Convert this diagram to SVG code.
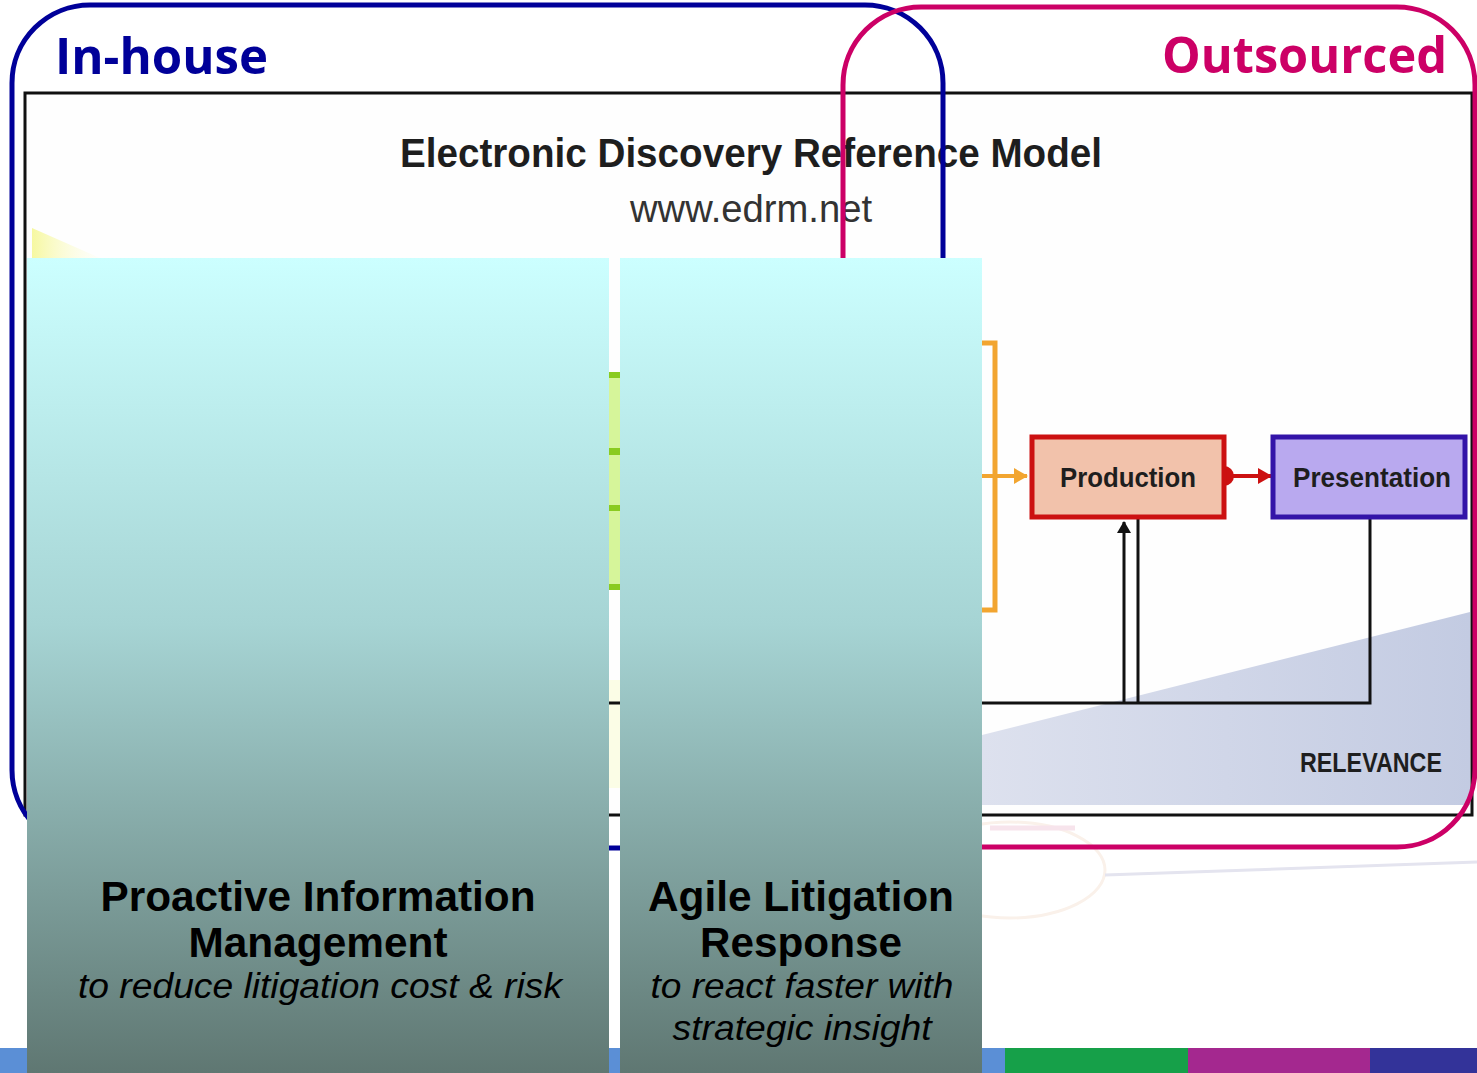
<svg xmlns="http://www.w3.org/2000/svg" width="1477" height="1073" viewBox="0 0 1477 1073">
<defs>
<linearGradient id="panel" x1="0" y1="0" x2="0" y2="1">
<stop offset="0" stop-color="#ccffff"/>
<stop offset="0.45" stop-color="#a6d4d4"/>
<stop offset="1" stop-color="#5f7772"/>
</linearGradient>
<linearGradient id="rel" x1="0" y1="0" x2="1" y2="0">
<stop offset="0" stop-color="#dde1ee"/>
<stop offset="1" stop-color="#c3cbe2"/>
</linearGradient>
<linearGradient id="yel" x1="0" y1="0" x2="1" y2="0">
<stop offset="0" stop-color="#f6f8a0"/>
<stop offset="1" stop-color="#fdfde8" stop-opacity="0.2"/>
</linearGradient>
<marker id="aOr" markerWidth="14" markerHeight="16" refX="13" refY="8" orient="auto" markerUnits="userSpaceOnUse">
<path d="M0,0 L14,8 L0,16 Z" fill="#f2a530"/>
</marker>
<marker id="aRed" markerWidth="14" markerHeight="16" refX="13" refY="8" orient="auto" markerUnits="userSpaceOnUse">
<path d="M0,0 L14,8 L0,16 Z" fill="#cc1111"/>
</marker>
<marker id="aBlk" markerWidth="12" markerHeight="14" refX="11" refY="7" orient="auto" markerUnits="userSpaceOnUse">
<path d="M0,0 L12,7 L0,14 Z" fill="#111"/>
</marker>
</defs>
<style>
.cond{font-family:"Liberation Sans","DejaVu Sans",sans-serif;font-weight:bold;fill:#1e1e1e}
.ph{font-family:"Liberation Sans",Arial,sans-serif;font-weight:bold;font-size:42px;fill:#000;text-anchor:middle}
.pi{font-family:"Liberation Sans",Arial,sans-serif;font-style:italic;font-size:35px;fill:#000;text-anchor:middle}
.lbl{font-family:"Open Sans","Noto Sans",sans-serif;font-weight:bold;font-size:50px}
.panel{fill:url(#panel)}
</style>
<rect width="1477" height="1073" fill="#ffffff"/>

<!-- screenshot of EDRM -->
<g id="edrm-screenshot">
<rect x="25" y="93" width="1447" height="722" fill="#fefefe" stroke="#111" stroke-width="3"/>
<polygon points="32,228 100,258 32,258" fill="url(#yel)"/>
<polygon points="982,735 1470,612 1470,805 982,805" fill="url(#rel)"/>
<text class="cond" x="751" y="167" font-size="40" text-anchor="middle" textLength="702" lengthAdjust="spacingAndGlyphs">Electronic Discovery Reference Model</text>
<text x="751" y="222" font-family="Liberation Sans,Arial,sans-serif" font-size="38" fill="#333" text-anchor="middle" textLength="242" lengthAdjust="spacingAndGlyphs">www.edrm.net</text>
<rect x="560" y="372" width="80" height="218" fill="#d6f59a"/>
<rect x="560" y="372" width="80" height="6" fill="#8acb20"/>
<rect x="560" y="448" width="80" height="7" fill="#8acb20"/>
<rect x="560" y="505" width="80" height="6" fill="#8acb20"/>
<rect x="560" y="584" width="80" height="6" fill="#8acb20"/>
<rect x="560" y="680" width="80" height="108" fill="#fbfde6"/>
<line x1="560" y1="703" x2="640" y2="703" stroke="#111" stroke-width="3"/>
<text class="cond" x="1371" y="772" font-size="28" text-anchor="middle" textLength="142" lengthAdjust="spacingAndGlyphs">RELEVANCE</text>
</g>

<g id="connectors">
<polyline points="982,343 995,343 995,610 982,610" fill="none" stroke="#f2a530" stroke-width="5"/>
<line x1="982" y1="476" x2="1027" y2="476" stroke="#f2a530" stroke-width="4" marker-end="url(#aOr)"/>
<circle cx="1224" cy="476" r="10" fill="#cc1111"/>
<line x1="1226" y1="476" x2="1271" y2="476" stroke="#cc1111" stroke-width="4" marker-end="url(#aRed)"/>
<line x1="1124" y1="703" x2="1124" y2="522" stroke="#111" stroke-width="3" marker-end="url(#aBlk)"/>
<polyline points="982,703 1370,703 1370,518" fill="none" stroke="#111" stroke-width="3"/>
<line x1="1138" y1="518" x2="1138" y2="703" stroke="#111" stroke-width="3"/>
</g>

<g id="production">
<rect x="1032" y="437" width="192" height="80" fill="#f2c2ab" stroke="#cc1111" stroke-width="5"/>
<text class="cond" x="1128" y="487" font-size="28" text-anchor="middle" textLength="136" lengthAdjust="spacingAndGlyphs">Production</text>
</g>
<g id="presentation">
<rect x="1273" y="437" width="192" height="80" fill="#b9a9ef" stroke="#3314a8" stroke-width="5"/>
<text class="cond" x="1372" y="487" font-size="28" text-anchor="middle" textLength="158" lengthAdjust="spacingAndGlyphs">Presentation</text>
</g>

<!-- faint background below -->
<ellipse cx="1010" cy="870" rx="95" ry="48" fill="none" stroke="#faf1ea" stroke-width="3"/>
<line x1="1105" y1="875" x2="1477" y2="862" stroke="#e4e4ef" stroke-width="3"/>
<line x1="990" y1="828" x2="1075" y2="828" stroke="#f7e4ec" stroke-width="5"/>

<!-- bottom bar -->
<g id="bottom-bar">
<rect x="0" y="1048" width="1005" height="25" fill="#5b8fd6"/>
<rect x="1005" y="1048" width="183" height="25" fill="#16a049"/>
<rect x="1188" y="1048" width="182" height="25" fill="#a4288f"/>
<rect x="1370" y="1048" width="107" height="25" fill="#333399"/>
</g>

<g id="in-house">
<rect x="12" y="5" width="931" height="843" rx="78" ry="78" fill="none" stroke="#000099" stroke-width="5"/>
<text class="lbl" x="55" y="74" fill="#000099" textLength="213" lengthAdjust="spacingAndGlyphs">In-house</text>
</g>
<g id="outsourced">
<rect x="843" y="7" width="632" height="840" rx="78" ry="78" fill="none" stroke="#cc0066" stroke-width="5"/>
<text class="lbl" x="1162" y="73" fill="#cc0066" textLength="285" lengthAdjust="spacingAndGlyphs">Outsourced</text>
</g>

<g id="proactive-panel">
<rect class="panel" x="27" y="258" width="582" height="815"/>
<text class="ph" x="318" y="911" textLength="435" lengthAdjust="spacingAndGlyphs">Proactive Information</text>
<text class="ph" x="318" y="957" textLength="259" lengthAdjust="spacingAndGlyphs">Management</text>
<text class="pi" x="320" y="998" textLength="484" lengthAdjust="spacingAndGlyphs">to reduce litigation cost &amp; risk</text>
</g>
<g id="agile-panel">
<rect class="panel" x="620" y="258" width="362" height="815"/>
<text class="ph" x="801" y="911" textLength="306" lengthAdjust="spacingAndGlyphs">Agile Litigation</text>
<text class="ph" x="801" y="957" textLength="202" lengthAdjust="spacingAndGlyphs">Response</text>
<text class="pi" x="802" y="998" textLength="303" lengthAdjust="spacingAndGlyphs">to react faster with</text>
<text class="pi" x="802" y="1040" textLength="259" lengthAdjust="spacingAndGlyphs">strategic insight</text>
</g>
</svg>
